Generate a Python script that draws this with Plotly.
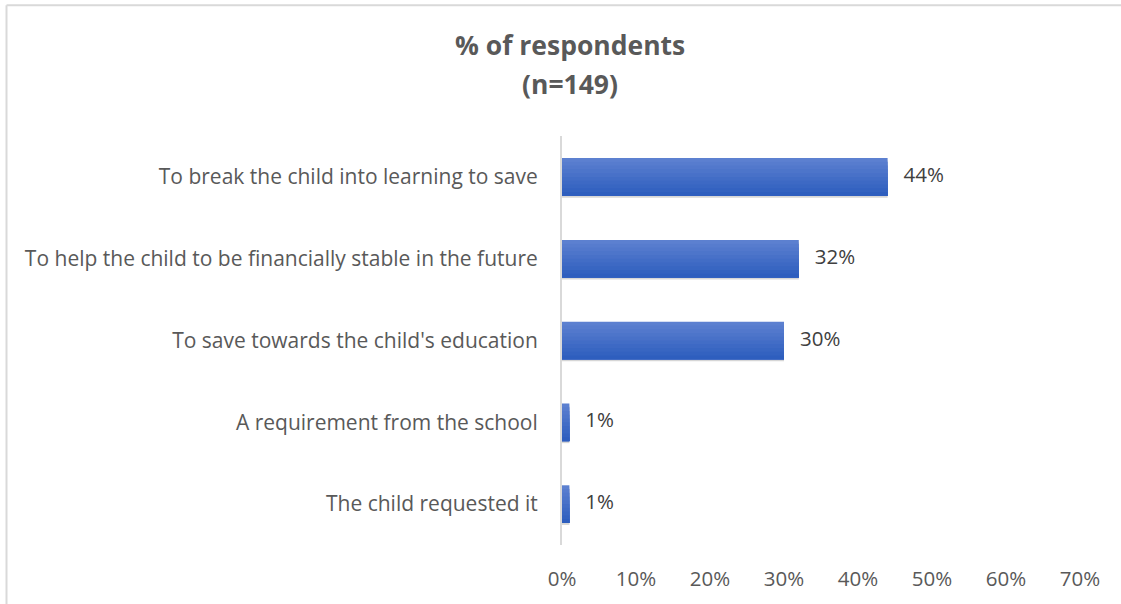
import plotly.graph_objects as go

# Survey data: reasons for opening a savings account for the child
reasons = [
    "To break the child into learning to save",
    "To help the child to be financially stable in the future",
    "To save towards the child's education",
    "A requirement from the school",
    "The child requested it",
]
shares = [44, 32, 30, 1, 1]  # % of respondents
tick_values = [0, 10, 20, 30, 40, 50, 60, 70]
tick_labels = [f"{v}%" for v in tick_values]

FONT = "Open Sans, sans-serif"
TEXT_GREY = "#595959"

BAR_WIDTH = 0.46
fig = go.Figure()

# soft drop shadow under each bar
fig.add_trace(go.Bar(
    y=reasons, x=shares, orientation="h",
    width=BAR_WIDTH, offset=-BAR_WIDTH / 2 + 0.025,
    marker=dict(color="rgba(0,0,0,0.16)", line=dict(width=0)),
    hoverinfo="skip", showlegend=False,
))

# vertical gradient: bar built from overlapping horizontal bands, lighter at top
top_rgb = (92, 128, 208)
bot_rgb = (46, 94, 190)
n_bands = 10
band = BAR_WIDTH / n_bands
for i in range(n_bands):
    t = i / (n_bands - 1)
    r, g, b = (round(top_rgb[k] + (bot_rgb[k] - top_rgb[k]) * t) for k in range(3))
    start = -BAR_WIDTH / 2 + i * band
    fig.add_trace(go.Bar(
        y=reasons, x=shares, orientation="h",
        width=BAR_WIDTH / 2 - start, offset=start,
        marker=dict(color=f"rgb({r},{g},{b})", line=dict(width=0)),
        hoverinfo="skip", showlegend=False,
    ))

# value labels to the right of each bar
fig.add_trace(go.Scatter(
    y=reasons, x=shares, mode="text",
    text=[f"   {v}%" for v in shares],
    textposition="middle right",
    textfont=dict(family=FONT, size=20.5, color="#404040"),
    hoverinfo="skip", showlegend=False, cliponaxis=False,
))

fig.update_layout(
    width=1121, height=604,
    margin=dict(l=562, r=41, t=136, b=57),
    paper_bgcolor="white", plot_bgcolor="white",
    barmode="overlay",
    showlegend=False,
    font=dict(family=FONT, size=20.5, color=TEXT_GREY),
)

fig.update_xaxes(
    range=[0, 70], tickvals=tick_values, ticktext=tick_labels,
    showgrid=False, zeroline=False, showline=False,
    ticks="", ticklabelstandoff=19,
    tickfont=dict(family=FONT, size=20.5, color=TEXT_GREY),
)
fig.update_yaxes(
    categoryorder="array", categoryarray=reasons, autorange="reversed",
    showgrid=False, zeroline=False,
    showline=True, linecolor="#d9d9d9", linewidth=2,
    ticks="", ticklabelstandoff=18,
    tickfont=dict(family=FONT, size=21, color=TEXT_GREY),
)

# two-line chart title
title_x = (570 - 562) / 518
fig.add_annotation(
    text="<b>% of respondents</b>", xref="paper", yref="paper",
    x=title_x, y=(547 - 45) / 411, xanchor="center", yanchor="middle",
    showarrow=False, font=dict(family=FONT, size=26.5, color=TEXT_GREY),
)
fig.add_annotation(
    text="<b>(n=149)</b>", xref="paper", yref="paper",
    x=title_x, y=(547 - 84) / 411, xanchor="center", yanchor="middle",
    showarrow=False, font=dict(family=FONT, size=26.5, color=TEXT_GREY),
)

# chart-area border: only the left and top edges fall inside the canvas
border_left = (6.5 - 562) / 518
border_top = (547 - 4.5) / 411
fig.add_shape(
    type="line", xref="paper", yref="paper",
    x0=border_left, x1=border_left, y0=-0.2, y1=border_top,
    line=dict(color="#d9d9d9", width=2), layer="below",
)
fig.add_shape(
    type="line", xref="paper", yref="paper",
    x0=border_left, x1=1.2, y0=border_top, y1=border_top,
    line=dict(color="#d9d9d9", width=2), layer="below",
)

fig.write_html("out.html")
